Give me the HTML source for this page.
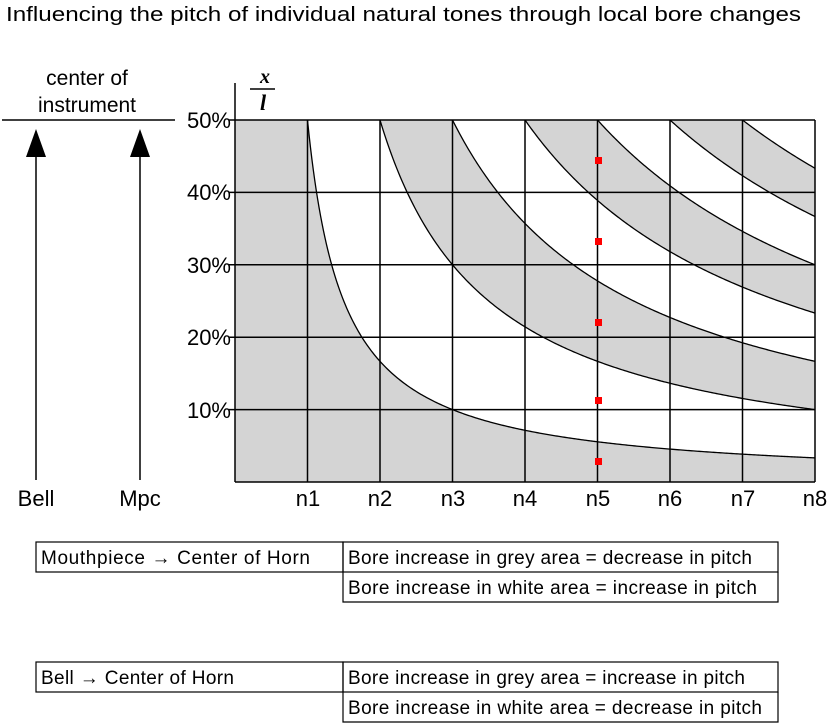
<!DOCTYPE html>
<html><head><meta charset="utf-8"><style>
body{margin:0;background:#fff;width:832px;height:726px;overflow:hidden;font-family:"Liberation Sans",Arial,sans-serif}
svg{position:absolute;left:0;top:0}
</style></head><body>
<svg id="s" width="832" height="726" xmlns="http://www.w3.org/2000/svg" font-family="Liberation Sans, Arial, sans-serif">
<defs><clipPath id="cp"><rect x="235" y="120" width="580" height="362"/></clipPath></defs>
<text x="6" y="21" font-size="20" textLength="795" lengthAdjust="spacingAndGlyphs">Influencing the pitch of individual natural tones through local bore changes</text>
<text x="87" y="85" font-size="21" text-anchor="middle">center of</text>
<text x="87" y="112" font-size="21" text-anchor="middle">instrument</text>
<line x1="2" y1="120" x2="175" y2="120" stroke="#000" stroke-width="1.5"/>
<line x1="36" y1="150" x2="36" y2="480" stroke="#000" stroke-width="1.5"/>
<line x1="140" y1="150" x2="140" y2="480" stroke="#000" stroke-width="1.5"/>
<polygon points="36,129 26,157 46,157" fill="#000"/>
<polygon points="140,129 130,157 150,157" fill="#000"/>
<text x="36" y="506" font-size="22" text-anchor="middle">Bell</text>
<text x="140" y="506" font-size="22" text-anchor="middle">Mpc</text>
<rect x="235" y="120" width="580" height="362" fill="#d4d4d4"/>
<g id="bands" clip-path="url(#cp)"></g>
<g id="grid" stroke="#000" stroke-width="1.5" fill="none"></g>
<g id="curves" clip-path="url(#cp)" stroke="#000" stroke-width="1.3" fill="none"></g>
<text x="265" y="83" font-size="20" font-style="italic" font-family="Liberation Serif, serif" font-weight="bold" text-anchor="middle">x</text>
<line x1="250" y1="89" x2="275" y2="89" stroke="#000" stroke-width="1.5"/>
<text x="263" y="110" font-size="22" font-style="italic" font-family="Liberation Serif, serif" font-weight="bold" text-anchor="middle">l</text>
<g font-size="22" text-anchor="end">
<text x="231" y="128">50%</text><text x="231" y="200">40%</text><text x="231" y="273">30%</text><text x="231" y="345">20%</text><text x="231" y="418">10%</text>
</g>
<g font-size="22" text-anchor="middle">
<text x="308" y="506">n1</text><text x="380" y="506">n2</text><text x="453" y="506">n3</text><text x="525" y="506">n4</text><text x="598" y="506">n5</text><text x="670" y="506">n6</text><text x="743" y="506">n7</text><text x="815" y="506">n8</text>
</g>
<g fill="#f00">
<rect x="595" y="157" width="7" height="7"/><rect x="595" y="238" width="7" height="7"/><rect x="595" y="319" width="7" height="7"/><rect x="595" y="397" width="7" height="7"/><rect x="595" y="458" width="7" height="7"/>
</g>
<g stroke="#000" stroke-width="1.2" fill="none">
<rect x="36" y="542" width="307" height="30"/><rect x="343" y="542" width="435" height="30"/><polyline points="343,572 343,602 778,602 778,572"/>
<rect x="36" y="662" width="307" height="30"/><rect x="343" y="662" width="435" height="30"/><polyline points="343,692 343,722 778,722 778,692"/>
</g>
<g font-size="19" lengthAdjust="spacingAndGlyphs">
<text x="41" y="564" textLength="269">Mouthpiece → Center of Horn</text>
<text x="348" y="564" textLength="404">Bore increase in grey area = decrease in pitch</text>
<text x="348" y="594" textLength="409">Bore increase in white area = increase in pitch</text>
<text x="41" y="684" textLength="193">Bell → Center of Horn</text>
<text x="348" y="684" textLength="397">Bore increase in grey area = increase in pitch</text>
<text x="348" y="714" textLength="414">Bore increase in white area = decrease in pitch</text>
</g>
</svg>
<script>
var NS="http://www.w3.org/2000/svg";
function X(n){return 235+72.5*n}
function Y(f){return 482-724*f}
function f(k,n){return (k-0.5)/(2*n-1)}
function pts(k,a,b,st){var r=[];for(var n=a;(st>0?n<=b+1e-9:n>=b-1e-9);n+=st){r.push(X(n).toFixed(2)+","+Y(Math.min(f(k,n),0.6)).toFixed(2));}return r;}
var bands=document.getElementById("bands");
[1,3,5,7].forEach(function(k){
 var lower=pts(k,0.55,8.2,0.02);
 var upper=k<7?pts(k+1,8.2,0.55,-0.02):[X(8.2)+","+Y(0.7),X(0.55)+","+Y(0.7)];
 var p=document.createElementNS(NS,"polygon");
 p.setAttribute("points",lower.concat(upper).join(" "));p.setAttribute("fill","#fff");bands.appendChild(p);
});
var g=document.getElementById("grid");
function ln(x1,y1,x2,y2){var l=document.createElementNS(NS,"line");l.setAttribute("x1",x1);l.setAttribute("y1",y1);l.setAttribute("x2",x2);l.setAttribute("y2",y2);g.appendChild(l);}
for(var i=1;i<=8;i++)ln(X(i),120,X(i),482);
for(var j=1;j<=5;j++)ln(229,Y(j/10),815,Y(j/10));
ln(235,83,235,482);ln(235,482,815,482);
var c=document.getElementById("curves");
for(var k=1;k<=7;k++){var p=document.createElementNS(NS,"polyline");p.setAttribute("points",pts(k,k,8.1,0.02).join(" "));c.appendChild(p);}
</script>
</body></html>
